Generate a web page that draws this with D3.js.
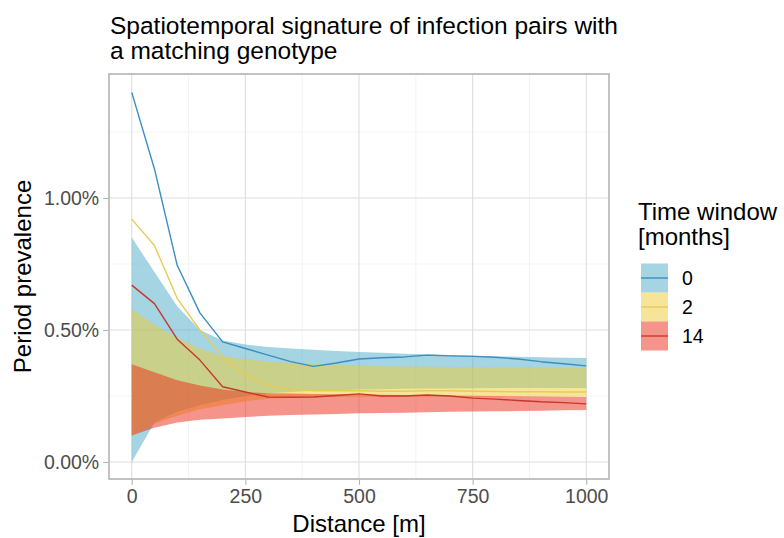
<!DOCTYPE html>
<html>
<head>
<meta charset="utf-8">
<script src="https://cdn.jsdelivr.net/npm/d3@7"></script>
<style>
  html, body { margin: 0; padding: 0; background: #ffffff; }
  svg { display: block; font-family: "Liberation Sans", Arial, Helvetica, sans-serif; }
</style>
</head>
<body>
<svg id="chart" width="784" height="538"></svg>
<script>
// ---------------- data (period prevalence in %) ----------------
const distance = [0, 50, 100, 150, 200, 250, 300, 350, 400, 450, 500, 550, 600, 650, 700, 750, 800, 850, 900, 950, 1000];

const windows = ["0", "2", "14"];

// observed lines
const line0  = [1.40, 1.11, 0.745, 0.565, 0.455, 0.43, 0.405, 0.38, 0.362, 0.375, 0.39, 0.395, 0.398, 0.405, 0.402, 0.40, 0.397, 0.39, 0.38, 0.372, 0.364];
const line2  = [0.92, 0.82, 0.62, 0.50, 0.40, 0.33, 0.29, 0.275, 0.27, 0.27, 0.27, 0.268, 0.268, 0.27, 0.27, 0.268, 0.267, 0.266, 0.266, 0.265, 0.265];
const line14 = [0.67, 0.60, 0.465, 0.386, 0.285, 0.265, 0.246, 0.245, 0.246, 0.252, 0.258, 0.25, 0.25, 0.254, 0.25, 0.242, 0.238, 0.233, 0.228, 0.225, 0.22];

// envelopes (upper / lower)
const upper0  = [0.85, 0.72, 0.59, 0.50, 0.46, 0.445, 0.436, 0.43, 0.425, 0.42, 0.417, 0.414, 0.41, 0.408, 0.405, 0.403, 0.40, 0.399, 0.397, 0.395, 0.394];
const lower0  = [0.0, 0.15, 0.19, 0.215, 0.235, 0.25, 0.26, 0.265, 0.27, 0.272, 0.275, 0.276, 0.277, 0.278, 0.278, 0.279, 0.28, 0.28, 0.28, 0.28, 0.28];
const upper2  = [0.58, 0.52, 0.47, 0.43, 0.40, 0.39, 0.38, 0.375, 0.37, 0.368, 0.365, 0.363, 0.362, 0.361, 0.36, 0.359, 0.358, 0.357, 0.357, 0.356, 0.356];
const lower2  = [0.10, 0.145, 0.175, 0.20, 0.215, 0.23, 0.24, 0.243, 0.245, 0.246, 0.247, 0.247, 0.247, 0.247, 0.247, 0.247, 0.247, 0.247, 0.247, 0.247, 0.247];
const upper14 = [0.37, 0.34, 0.31, 0.29, 0.275, 0.265, 0.26, 0.259, 0.258, 0.257, 0.256, 0.255, 0.254, 0.253, 0.252, 0.251, 0.25, 0.249, 0.248, 0.247, 0.246];
const lower14 = [0.10, 0.13, 0.15, 0.16, 0.165, 0.17, 0.175, 0.178, 0.18, 0.182, 0.185, 0.186, 0.187, 0.188, 0.19, 0.191, 0.192, 0.193, 0.194, 0.196, 0.197];

const xTicks = [0, 250, 500, 750, 1000];
const xMinor = [125, 375, 625, 875];
const yTicks = [0, 0.5, 1.0];
const yMinor = [0.25, 0.75, 1.25];

const titleLines = ["Spatiotemporal signature of infection pairs with", "a matching genotype"];
const xTitle = "Distance [m]";
const yTitle = "Period prevalence";
const legendTitle = ["Time window", "[months]"];

// ---------------- styles ----------------
const fillColors = ["#4ba9c5", "#edcb31", "#eb2915"];
const lineColors = ["#3b8ec0", "#e6cc55", "#c8372c"];
const fillOpacity = 0.5;

const lines = [line0, line2, line14];
const uppers = [upper0, upper2, upper14];
const lowers = [lower0, lower2, lower14];

const series = windows.map((w, i) => ({
  key: w,
  fill: fillColors[i],
  stroke: lineColors[i],
  points: distance.map((d, j) => ({ d: d, v: lines[i][j], hi: uppers[i][j], lo: lowers[i][j] }))
}));

// ---------------- layout ----------------
const panel = { left: 109, right: 609, top: 74, bottom: 479 };
const svg = d3.select("#chart");

const x = d3.scaleLinear().domain([-50, 1050]).range([panel.left, panel.right]);
const y = d3.scaleLinear().domain([-0.0644, 1.4697]).range([panel.bottom, panel.top]);

// background
svg.append("rect").attr("width", 784).attr("height", 538).attr("fill", "#ffffff");

// grid
const grid = svg.append("g");
grid.selectAll("line.xmin").data(xMinor).join("line")
  .attr("x1", d => x(d)).attr("x2", d => x(d)).attr("y1", panel.top).attr("y2", panel.bottom)
  .attr("stroke", "#efefef").attr("stroke-width", 0.7);
grid.selectAll("line.ymin").data(yMinor).join("line")
  .attr("y1", d => y(d)).attr("y2", d => y(d)).attr("x1", panel.left).attr("x2", panel.right)
  .attr("stroke", "#efefef").attr("stroke-width", 0.7);
grid.selectAll("line.xmaj").data(xTicks).join("line")
  .attr("x1", d => x(d)).attr("x2", d => x(d)).attr("y1", panel.top).attr("y2", panel.bottom)
  .attr("stroke", "#dedede").attr("stroke-width", 1.1);
grid.selectAll("line.ymaj").data(yTicks).join("line")
  .attr("y1", d => y(d)).attr("y2", d => y(d)).attr("x1", panel.left).attr("x2", panel.right)
  .attr("stroke", "#dedede").attr("stroke-width", 1.1);

// ribbons
const area = d3.area().x(p => x(p.d)).y0(p => y(p.lo)).y1(p => y(p.hi));
svg.append("g").selectAll("path").data(series).join("path")
  .attr("d", s => area(s.points))
  .attr("fill", s => s.fill)
  .attr("fill-opacity", fillOpacity)
  .attr("stroke", "none");

// lines
const line = d3.line().x(p => x(p.d)).y(p => y(p.v));
svg.append("g").selectAll("path").data(series).join("path")
  .attr("d", s => line(s.points))
  .attr("fill", "none")
  .attr("stroke", s => s.stroke)
  .attr("stroke-width", 1.4)
  .attr("stroke-linejoin", "round");

// panel border
svg.append("rect")
  .attr("x", panel.left).attr("y", panel.top)
  .attr("width", panel.right - panel.left).attr("height", panel.bottom - panel.top)
  .attr("fill", "none").attr("stroke", "#b3b3b3").attr("stroke-width", 1.6);

// axes
const xAxis = d3.axisBottom(x).tickValues(xTicks).tickSize(5).tickPadding(4).tickFormat(d3.format("d"));
const yAxis = d3.axisLeft(y).tickValues(yTicks).tickSize(5).tickPadding(4).tickFormat(v => d3.format(".2f")(v) + "%");

const gx = svg.append("g").attr("transform", `translate(0,${panel.bottom + 0.8})`).call(xAxis);
const gy = svg.append("g").attr("transform", `translate(${panel.left - 0.8},0)`).call(yAxis);
[gx, gy].forEach(g => {
  g.select(".domain").remove();
  g.selectAll(".tick line").attr("stroke", "#b3b3b3").attr("stroke-width", 1.1);
  g.selectAll(".tick text").attr("fill", "#4d4d4d").attr("font-size", "19.5px")
    .attr("font-family", "'Liberation Sans', Arial, sans-serif");
});
gx.selectAll(".tick text").attr("dy", "0.71em");

// axis titles
svg.append("text").attr("x", (panel.left + panel.right) / 2).attr("y", 532)
  .attr("text-anchor", "middle").attr("font-size", "24px").attr("fill", "#000")
  .text(xTitle);
svg.append("text")
  .attr("transform", `translate(31,${(panel.top + panel.bottom) / 2}) rotate(-90)`)
  .attr("text-anchor", "middle").attr("font-size", "24px").attr("fill", "#000")
  .text(yTitle);

// title
svg.append("g").selectAll("text").data(titleLines).join("text")
  .attr("x", 110).attr("y", (d, i) => 34 + i * 25)
  .attr("font-size", "24.5px").attr("fill", "#000")
  .text(d => d);

// legend
const lg = svg.append("g");
lg.selectAll("text.lt").data(legendTitle).join("text")
  .attr("x", 638).attr("y", (d, i) => 220 + i * 25)
  .attr("font-size", "24px").attr("fill", "#000")
  .text(d => d);

const keyX = 641, keyW = 27, keyH = 29, keyY0 = 263.5;
const keys = lg.selectAll("g.key").data(series).join("g")
  .attr("transform", (s, i) => `translate(${keyX},${keyY0 + i * keyH})`);
keys.append("rect").attr("width", keyW).attr("height", keyH)
  .attr("fill", s => s.fill).attr("fill-opacity", fillOpacity);
keys.append("line").attr("x1", 0).attr("x2", keyW).attr("y1", keyH / 2).attr("y2", keyH / 2)
  .attr("stroke", s => s.stroke).attr("stroke-width", 1.4);
keys.append("text").attr("x", keyW + 14).attr("y", keyH / 2).attr("dy", "0.36em")
  .attr("font-size", "19.5px").attr("fill", "#000")
  .text(s => s.key);
</script>
</body>
</html>
